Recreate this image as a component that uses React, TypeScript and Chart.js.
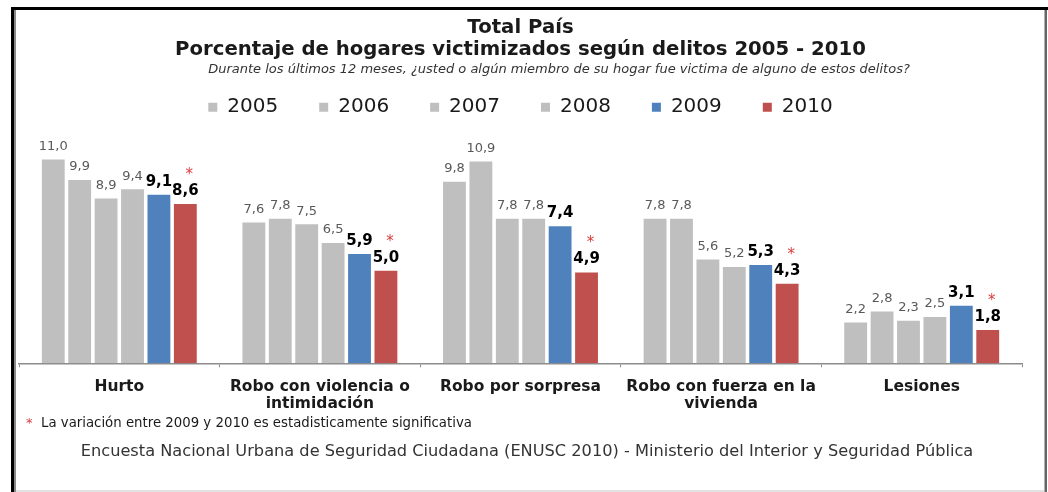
import React, { useEffect, useRef } from "react";
import { Chart, registerables } from "chart.js";

Chart.register(...registerables);

// ---- data ----
const categories: (string | string[])[] = [
  "Hurto",
  ["Robo con violencia o", "intimidación"],
  "Robo por sorpresa",
  ["Robo con fuerza en la", "vivienda"],
  "Lesiones",
];
const years = ["2005", "2006", "2007", "2008", "2009", "2010"];
const values2005 = [11.0, 7.6, 9.8, 7.8, 2.2];
const values2006 = [9.9, 7.8, 10.9, 7.8, 2.8];
const values2007 = [8.9, 7.5, 7.8, 5.6, 2.3];
const values2008 = [9.4, 6.5, 7.8, 5.2, 2.5];
const values2009 = [9.1, 5.9, 7.4, 5.3, 3.1];
const values2010 = [8.6, 5.0, 4.9, 4.3, 1.8];
const significant = [true, true, true, true, true];

const titleLines = ["Total País", "Porcentaje de hogares victimizados según delitos 2005 - 2010"];
const subtitleText =
  "Durante los últimos 12 meses, ¿usted o algún miembro de su hogar fue victima de alguno de estos delitos?";
const footnoteText = "La variación entre 2009 y 2010 es estadisticamente significativa";
const footerText =
  "Encuesta Nacional Urbana de Seguridad Ciudadana (ENUSC 2010) - Ministerio del Interior y Seguridad Pública";

// ---- styles ----
const GRAY = "#BFBFBF";
const BLUE = "#4F81BD";
const RED = "#C0504D";
const seriesColors = [GRAY, GRAY, GRAY, GRAY, BLUE, RED];
const FONT = "'DejaVu Sans', sans-serif";
const STAR_RED = "#DC3C3C";

const fmt = (v: number) => v.toFixed(1).replace(".", ",");

const decorPlugin = {
  id: "decor",
  beforeDraw(chart: any) {
    const ctx = chart.ctx;
    ctx.save();
    ctx.fillStyle = "#ffffff";
    ctx.fillRect(0, 0, chart.width, chart.height);
    // frame
    ctx.fillStyle = "#000000";
    ctx.fillRect(11, 7, 1037, 3);
    ctx.fillRect(11, 7, 3, 485);
    ctx.fillStyle = "#8a8a8a";
    ctx.fillRect(14, 10, 2, 482);
    ctx.fillStyle = "#b0b0b0";
    ctx.fillRect(1044, 10, 1, 482);
    ctx.fillStyle = "#666666";
    ctx.fillRect(1045, 10, 2, 482);
    ctx.fillStyle = "#e2e2e2";
    ctx.fillRect(16, 490, 1028, 2);
    ctx.restore();
  },
  afterDatasetsDraw(chart: any) {
    const ctx = chart.ctx;
    ctx.save();
    ctx.textAlign = "center";
    ctx.textBaseline = "middle";
    chart.data.datasets.forEach((ds: any, di: number) => {
      const meta = chart.getDatasetMeta(di);
      if (meta.hidden) return;
      meta.data.forEach((bar: any, i: number) => {
        const v = ds.data[i] as number;
        const bold = di >= 4;
        ctx.font = bold ? `bold 15px ${FONT}` : `13px ${FONT}`;
        ctx.fillStyle = bold ? "#000000" : "#595959";
        ctx.fillText(fmt(v), bar.x, bar.y - 13);
        if (di === years.length - 1 && significant[i]) {
          ctx.font = `15px ${FONT}`;
          ctx.fillStyle = STAR_RED;
          ctx.fillText("*", bar.x + 4, bar.y - 29);
        }
      });
    });
    ctx.restore();
  },
  afterDraw(chart: any) {
    const ctx = chart.ctx;
    ctx.save();
    ctx.textBaseline = "middle";
    // subtitle
    ctx.textAlign = "center";
    ctx.font = `italic 13px ${FONT}`;
    ctx.fillStyle = "#333333";
    ctx.fillText(subtitleText, 559, 70);
    // footnote
    ctx.textAlign = "left";
    ctx.font = `13px ${FONT}`;
    ctx.fillStyle = STAR_RED;
    ctx.fillText("*", 26, 424);
    ctx.font = `13.3px ${FONT}`;
    ctx.fillStyle = "#1a1a1a";
    ctx.fillText(footnoteText, 41, 424);
    // footer
    ctx.textAlign = "center";
    ctx.font = `16.2px ${FONT}`;
    ctx.fillStyle = "#333333";
    ctx.fillText(footerText, 527, 452);
    ctx.restore();
  },
};

export default function App() {
  const canvasRef = useRef<HTMLCanvasElement | null>(null);

  useEffect(() => {
    if (!canvasRef.current) return;
    const seriesValues = [values2005, values2006, values2007, values2008, values2009, values2010];
    const chart = new Chart(canvasRef.current, {
      type: "bar",
      data: {
        labels: categories,
        datasets: years.map((y, i) => ({
          label: y,
          data: seriesValues[i],
          backgroundColor: seriesColors[i],
          borderWidth: 0,
          barPercentage: 0.865,
          categoryPercentage: 0.79,
        })),
      },
      options: {
        responsive: false,
        animation: false,
        devicePixelRatio: 1,
        layout: { padding: { top: 10, left: 19, right: 26, bottom: 68 } },
        plugins: {
          title: {
            display: true,
            text: titleLines,
            color: "#1a1a1a",
            font: { family: FONT, size: 19.7, weight: "bold", lineHeight: 1.12 },
            padding: { top: 7, bottom: -5 },
          },
          legend: {
            display: true,
            position: "top",
            labels: {
              color: "#1a1a1a",
              font: { family: FONT, size: 20 },
              boxWidth: 9,
              boxHeight: 9,
              padding: 41,
            },
          },
          tooltip: { enabled: false },
        },
        scales: {
          x: {
            grid: {
              display: true,
              drawOnChartArea: false,
              drawTicks: true,
              tickLength: 4,
              color: "#8c8c8c",
              offset: true,
            },
            border: { display: true, color: "#8c8c8c", width: 1.5 },
            ticks: {
              color: "#1a1a1a",
              font: { family: FONT, size: 15.5, weight: "bold", lineHeight: 1.12 },
              padding: 11,
              maxRotation: 0,
              autoSkip: false,
            },
          },
          y: { display: false, min: 0, max: 12.75 },
        },
      },
      plugins: [decorPlugin],
    });
    return () => chart.destroy();
  }, []);

  return (
    <div style={{ position: "absolute", left: 0, top: 0, width: 1048, height: 492, background: "#fff" }}>
      <canvas ref={canvasRef} width={1048} height={492} style={{ display: "block" }} />
    </div>
  );
}
